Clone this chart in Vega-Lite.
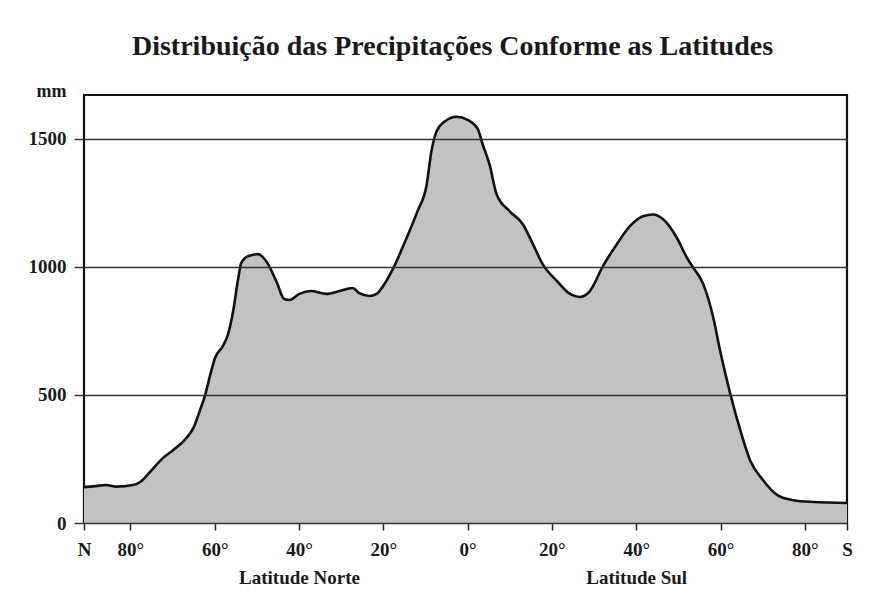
{
  "$schema": "https://vega.github.io/schema/vega-lite/v6.json",
  "autosize": {"type": "none"},
  "padding": {"left": 84, "top": 95, "right": 28, "bottom": 72},
  "width": 763,
  "height": 428,
  "background": "white",
  "title": {
    "text": "Distribuição das Precipitações Conforme as Latitudes",
    "font": "Liberation Serif",
    "fontSize": 28,
    "fontWeight": "bold",
    "color": "#1a1a1a",
    "anchor": "middle",
    "dx": -13,
    "offset": 21
  },
  "data": {
    "values": [
      {"lat": -91, "mm": 140},
      {"lat": -88.2, "mm": 144},
      {"lat": -85.8, "mm": 148},
      {"lat": -83.5, "mm": 142},
      {"lat": -79.4, "mm": 148},
      {"lat": -77.5, "mm": 162},
      {"lat": -75.4, "mm": 198},
      {"lat": -72.3, "mm": 253},
      {"lat": -69.9, "mm": 284},
      {"lat": -66.8, "mm": 330},
      {"lat": -65.1, "mm": 369},
      {"lat": -63.5, "mm": 439},
      {"lat": -62.3, "mm": 497},
      {"lat": -61.1, "mm": 575},
      {"lat": -59.9, "mm": 645},
      {"lat": -58.0, "mm": 692},
      {"lat": -56.8, "mm": 738},
      {"lat": -55.6, "mm": 828},
      {"lat": -54.4, "mm": 956},
      {"lat": -53.7, "mm": 1014},
      {"lat": -52.1, "mm": 1041},
      {"lat": -49.7, "mm": 1049},
      {"lat": -47.8, "mm": 1022},
      {"lat": -45.4, "mm": 944},
      {"lat": -43.5, "mm": 874},
      {"lat": -42.3, "mm": 870},
      {"lat": -39.9, "mm": 894},
      {"lat": -37.1, "mm": 905},
      {"lat": -33.5, "mm": 894},
      {"lat": -30.4, "mm": 905},
      {"lat": -27.3, "mm": 917},
      {"lat": -25.7, "mm": 897},
      {"lat": -23.3, "mm": 886},
      {"lat": -21.6, "mm": 894},
      {"lat": -19.3, "mm": 944},
      {"lat": -17.4, "mm": 1002},
      {"lat": -14.5, "mm": 1111},
      {"lat": -11.9, "mm": 1216},
      {"lat": -9.7, "mm": 1321},
      {"lat": -8.6, "mm": 1449},
      {"lat": -7.4, "mm": 1527},
      {"lat": -5.5, "mm": 1566},
      {"lat": -2.6, "mm": 1585},
      {"lat": 0, "mm": 1573},
      {"lat": 2.4, "mm": 1538},
      {"lat": 3.6, "mm": 1476},
      {"lat": 5.2, "mm": 1399},
      {"lat": 6.9, "mm": 1282},
      {"lat": 10.0, "mm": 1216},
      {"lat": 13.1, "mm": 1166},
      {"lat": 15.5, "mm": 1088},
      {"lat": 17.8, "mm": 1010},
      {"lat": 21.2, "mm": 944},
      {"lat": 24.3, "mm": 894},
      {"lat": 26.6, "mm": 882},
      {"lat": 29.0, "mm": 905},
      {"lat": 32.1, "mm": 1002},
      {"lat": 35.4, "mm": 1088},
      {"lat": 38.5, "mm": 1158},
      {"lat": 41.6, "mm": 1197},
      {"lat": 44.0, "mm": 1204},
      {"lat": 46.4, "mm": 1185},
      {"lat": 49.7, "mm": 1111},
      {"lat": 52.1, "mm": 1033},
      {"lat": 53.3, "mm": 1002},
      {"lat": 55.9, "mm": 932},
      {"lat": 58.3, "mm": 800},
      {"lat": 59.9, "mm": 672},
      {"lat": 62.3, "mm": 505},
      {"lat": 64.7, "mm": 361},
      {"lat": 67.0, "mm": 245},
      {"lat": 70.1, "mm": 167},
      {"lat": 73.5, "mm": 109},
      {"lat": 77.3, "mm": 89},
      {"lat": 82.0, "mm": 82},
      {"lat": 90, "mm": 78}
    ]
  },
  "mark": {
    "type": "area",
    "interpolate": "monotone",
    "color": "#c2c2c2",
    "opacity": 1,
    "line": {"color": "#111111", "strokeWidth": 2.6}
  },
  "encoding": {
    "x": {
      "field": "lat",
      "type": "quantitative",
      "scale": {"domain": [-91, 90], "nice": false, "zero": false},
      "axis": {
        "values": [-91, -80, -60, -40, -20, 0, 20, 40, 60, 80, 90],
        "labelExpr": "datum.value == -91 ? 'N' : datum.value == 90 ? 'S' : datum.value == -40 ? ['40°', 'Latitude Norte'] : datum.value == 40 ? ['40°', 'Latitude Sul'] : abs(datum.value) + '°'",
        "labelFont": "Liberation Serif",
        "labelFontSize": 19,
        "labelFontWeight": "bold",
        "labelColor": "#1a1a1a",
        "labelLineHeight": 28,
        "labelOverlap": false,
        "labelPadding": 10,
        "labelFlush": false,
        "tickSize": 7,
        "tickColor": "#222222",
        "tickWidth": 1.5,
        "domain": false,
        "grid": false,
        "title": null
      }
    },
    "y": {
      "field": "mm",
      "type": "quantitative",
      "scale": {"domain": [0, 1670], "nice": false},
      "axis": {
        "values": [0, 500, 1000, 1500],
        "format": "d",
        "labelFont": "Liberation Serif",
        "labelFontSize": 19,
        "labelFontWeight": "bold",
        "labelColor": "#1a1a1a",
        "labelPadding": 8,
        "tickSize": 10,
        "tickColor": "#333333",
        "tickWidth": 1.5,
        "grid": true,
        "gridColor": "#333333",
        "gridWidth": 1.5,
        "domain": false,
        "zindex": 1,
        "title": "mm",
        "titleFont": "Liberation Serif",
        "titleFontSize": 18,
        "titleFontWeight": "bold",
        "titleColor": "#1a1a1a",
        "titleAngle": 0,
        "titleAlign": "right",
        "titleBaseline": "middle",
        "titleX": -18,
        "titleY": -4
      }
    }
  },
  "config": {
    "view": {"stroke": "#111111", "strokeWidth": 2.2}
  }
}
